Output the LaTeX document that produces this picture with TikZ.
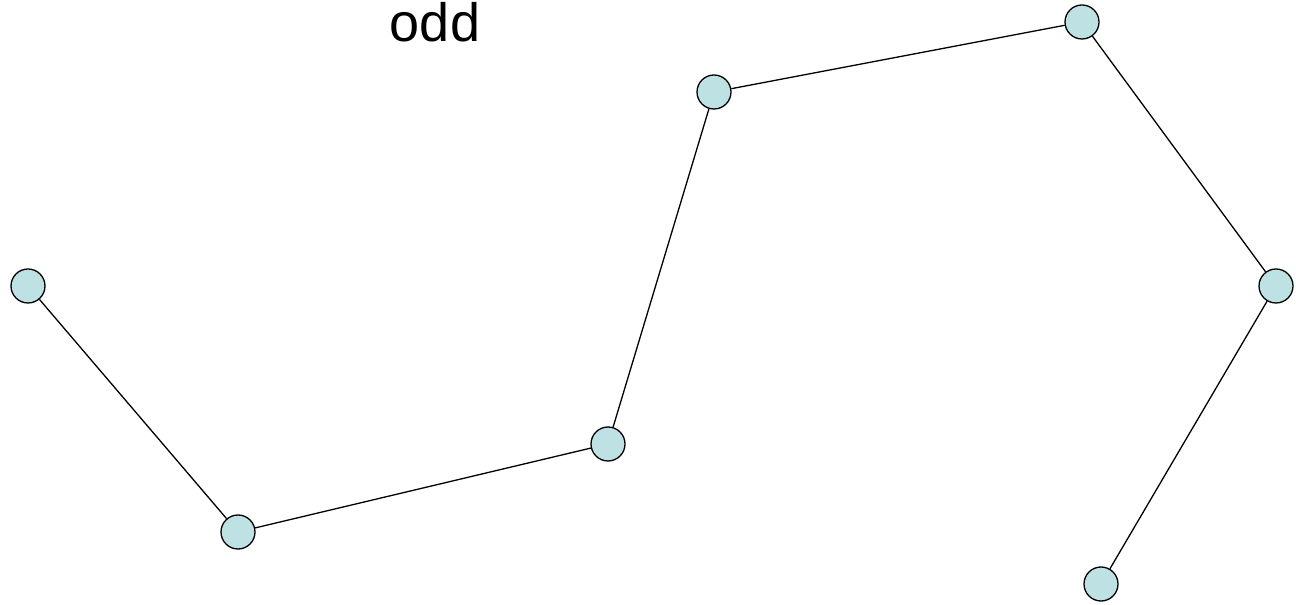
\documentclass[tikz,border=0pt]{standalone}
\usepackage{fontspec}
\setmainfont{Liberation Sans}
\definecolor{nodefill}{RGB}{190,226,228}
\begin{document}
\begin{tikzpicture}[x=1pt,y=1pt,
  vtx/.style={circle,draw=black,fill=nodefill,line width=1.3pt,minimum size=34pt,inner sep=0pt},
  edge/.style={draw=black,line width=1.3pt}]
\useasboundingbox (0,0) rectangle (1296,605);
\node[anchor=base,font=\fontsize{54}{60}\selectfont,inner sep=0pt] (lbl) at (435,563) {odd};
\node[vtx] (a) at (28,319) {};
\node[vtx] (b) at (238,73) {};
\node[vtx] (c) at (608,161) {};
\node[vtx] (d) at (714,513) {};
\node[vtx] (e) at (1082,583) {};
\node[vtx] (f) at (1276,319) {};
\node[vtx] (g) at (1101,21) {};
\draw[edge] (a) -- (b);
\draw[edge] (b) -- (c);
\draw[edge] (c) -- (d);
\draw[edge] (d) -- (e);
\draw[edge] (e) -- (f);
\draw[edge] (f) -- (g);
\end{tikzpicture}
\end{document}
